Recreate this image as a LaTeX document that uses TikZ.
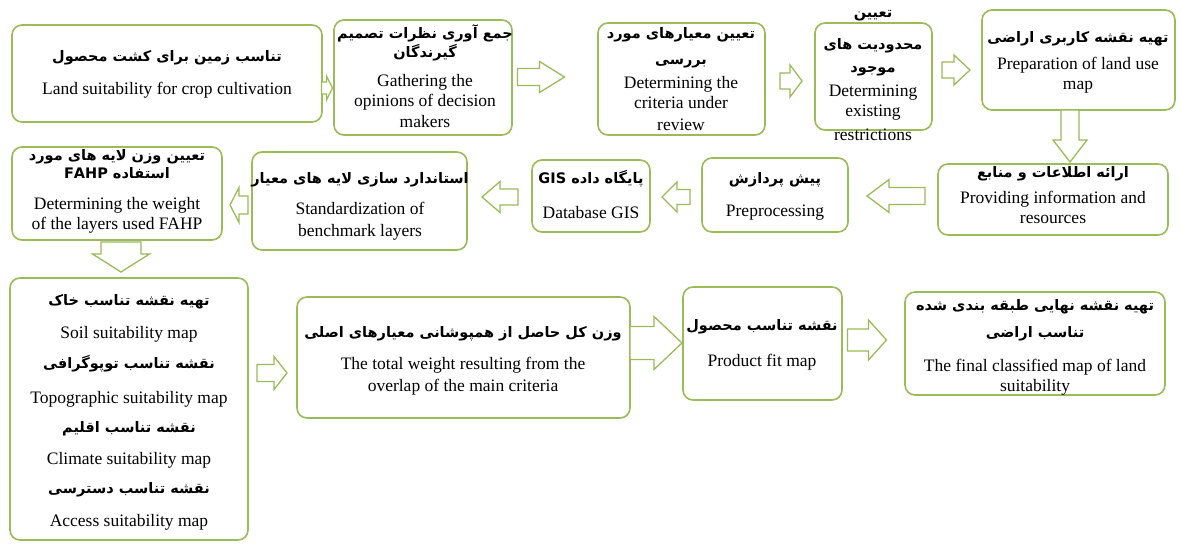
\documentclass[tikz,border=0pt]{standalone}
\usepackage{fontspec}
\setmainfont{Liberation Serif}
\newfontfamily\arabicfont[Script=Arabic]{DejaVu Sans}
\TeXXeTstate=1
\definecolor{grn}{HTML}{9BBB59}
\tikzset{
  box/.style={draw=grn, line width=1.6pt, rounded corners=10pt, fill=white, inner sep=0pt},
  artext/.style={anchor=base, inner sep=0pt, font=\arabicfont\bfseries\fontsize{14.5}{16}\selectfont},
  entext/.style={anchor=base, inner sep=0pt, font=\fontsize{17.5}{20}\selectfont},
  barrow/.style={draw=grn, fill=white, line width=1.3pt, line join=miter}
}
\newcommand\artx[3]{\node[artext] (#1) at (#2) {#3};}
\newcommand\entx[3]{\node[entext] (#1) at (#2) {#3};}
% name, center, length, head width, shaft width, head length, rotation
\newcommand\blk[7]{%
  \coordinate (#1) at (#2);
  \begin{scope}[shift={(#1)}, rotate=#7]
    \draw[barrow] (-#3/2,-#5/2) -- (#3/2-#6,-#5/2) -- (#3/2-#6,-#4/2) -- (#3/2,0)
      -- (#3/2-#6,#4/2) -- (#3/2-#6,#5/2) -- (-#3/2,#5/2) -- cycle;
  \end{scope}}
\begin{document}
\begin{tikzpicture}[x=1pt,y=-1pt]
\useasboundingbox[fill=white] (0,0) rectangle (1182,543);
% boxes
\node[box, minimum width=310pt, minimum height=97pt] (A) at (167,73.5) {};
\node[box, minimum width=178pt, minimum height=115pt] (B) at (423,77.5) {};
\node[box, minimum width=167pt, minimum height=112pt] (C) at (681.5,79) {};
\node[box, minimum width=117pt, minimum height=107pt] (D) at (873.5,76.5) {};
\node[box, minimum width=193pt, minimum height=100pt] (E) at (1078.5,60) {};
\node[box, minimum width=230pt, minimum height=71pt] (F) at (1053,199.5) {};
\node[box, minimum width=146pt, minimum height=74pt] (G) at (775,195) {};
\node[box, minimum width=118pt, minimum height=72pt] (H) at (591,196) {};
\node[box, minimum width=215pt, minimum height=98pt] (I) at (359.5,201) {};
\node[box, minimum width=210pt, minimum height=93pt] (J) at (117,193.5) {};
\node[box, minimum width=238pt, minimum height=262pt] (K) at (129,409) {};
\node[box, minimum width=333pt, minimum height=121pt] (L) at (463.5,357.5) {};
\node[box, minimum width=159pt, minimum height=113pt] (M) at (762.5,343.5) {};
\node[box, minimum width=260pt, minimum height=103pt] (N) at (1035,343.5) {};
% arrows
\blk{AB}{327,88}{11}{24}{12}{6}{0}
\blk{BC}{541,77}{47}{31}{17}{25}{0}
\blk{CD}{791,81}{22}{32}{16}{12}{0}
\blk{DE}{956,70}{28}{30}{16}{16}{0}
\blk{EF}{1070,136}{52}{34}{18}{22}{270}
\blk{FG}{896,196}{58}{33}{17}{22}{180}
\blk{GH}{676,197}{28}{30}{15}{15}{180}
\blk{HI}{500,197}{36}{31}{16}{18}{180}
\blk{IJ}{239,205}{18}{35}{18}{9}{180}
\blk{JK}{121,257}{30}{57}{40}{18}{270}
\blk{KL}{272,373}{30}{33}{17}{13}{0}
\blk{LM}{656,343}{52}{53}{33}{28}{0}
\blk{MN}{867,340}{39}{40}{22}{18}{0}
% texts A
\artx{a1}{167,62}{\beginR تناسب زمین برای کشت محصول\endR}
\entx{a2}{167,94}{Land suitability for crop cultivation}
% B
\artx{b1}{425,38}{\beginR جمع آوری نظرات تصمیم\endR}
\artx{b2}{425,57}{\beginR گیرندگان\endR}
\entx{b3}{425,86}{Gathering the}
\entx{b4}{425,106}{opinions of decision}
\entx{b5}{425,127}{makers}
% C
\artx{c1}{681,38}{\beginR تعیین معیارهای مورد\endR}
\artx{c2}{681,64}{\beginR بررسی\endR}
\entx{c3}{681,88}{Determining the}
\entx{c4}{681,108}{criteria under}
\entx{c5}{681,130}{review}
% D
\artx{d1}{873,18}{\beginR تعیین\endR}
\artx{d2}{873,50}{\beginR محدودیت های\endR}
\artx{d3}{873,73}{\beginR موجود\endR}
\entx{d4}{873,96}{Determining}
\entx{d5}{873,116}{existing}
\entx{d6}{873,140}{restrictions}
% E
\artx{e1}{1078,42}{\beginR تهیه نقشه کاربری اراضی\endR}
\entx{e2}{1078,69}{Preparation of land use}
\entx{e3}{1078,89}{map}
% F
\artx{f1}{1053,177}{\beginR ارائه اطلاعات و منابع\endR}
\entx{f2}{1053,203}{Providing information and}
\entx{f3}{1053,223}{resources}
% G
\artx{g1}{775,183}{\beginR پیش پردازش\endR}
\entx{g2}{775,216}{Preprocessing}
% H
\artx{h1}{591,183}{\beginR پایگاه داده \beginL GIS\endL\endR}
\entx{h2}{591,218}{Database GIS}
% I
\artx{i1}{360,183}{\beginR استاندارد سازی لایه های معیار\endR}
\entx{i2}{360,214}{Standardization of}
\entx{i3}{360,236}{benchmark layers}
% J
\artx{j1}{117,160}{\beginR تعیین وزن لایه های مورد\endR}
\artx{j2}{117,178}{\beginR استفاده \beginL FAHP\endL\endR}
\entx{j3}{117,209}{Determining the weight}
\entx{j4}{117,229}{of the layers used FAHP}
% K
\artx{k1}{129,305}{\beginR تهیه نقشه تناسب خاک\endR}
\entx{k2}{129,338}{Soil suitability map}
\artx{k3}{129,368}{\beginR نقشه تناسب توپوگرافی\endR}
\entx{k4}{129,403}{Topographic suitability map}
\artx{k5}{129,432}{\beginR نقشه تناسب اقلیم\endR}
\entx{k6}{129,464}{Climate suitability map}
\artx{k7}{129,493}{\beginR نقشه تناسب دسترسی\endR}
\entx{k8}{129,526}{Access suitability map}
% L
\artx{l1}{463,337}{\beginR وزن کل حاصل از همپوشانی معیارهای اصلی\endR}
\entx{l2}{463,369}{The total weight resulting from the}
\entx{l3}{463,391}{overlap of the main criteria}
% M
\artx{m1}{762,330}{\beginR نقشه تناسب محصول\endR}
\entx{m2}{762,366}{Product fit map}
% N
\artx{n1}{1035,310}{\beginR تهیه نقشه نهایی طبقه بندی شده\endR}
\artx{n2}{1035,337}{\beginR تناسب اراضی\endR}
\entx{n3}{1035,371}{The final classified map of land}
\entx{n4}{1035,391}{suitability}
\end{tikzpicture}
\end{document}
